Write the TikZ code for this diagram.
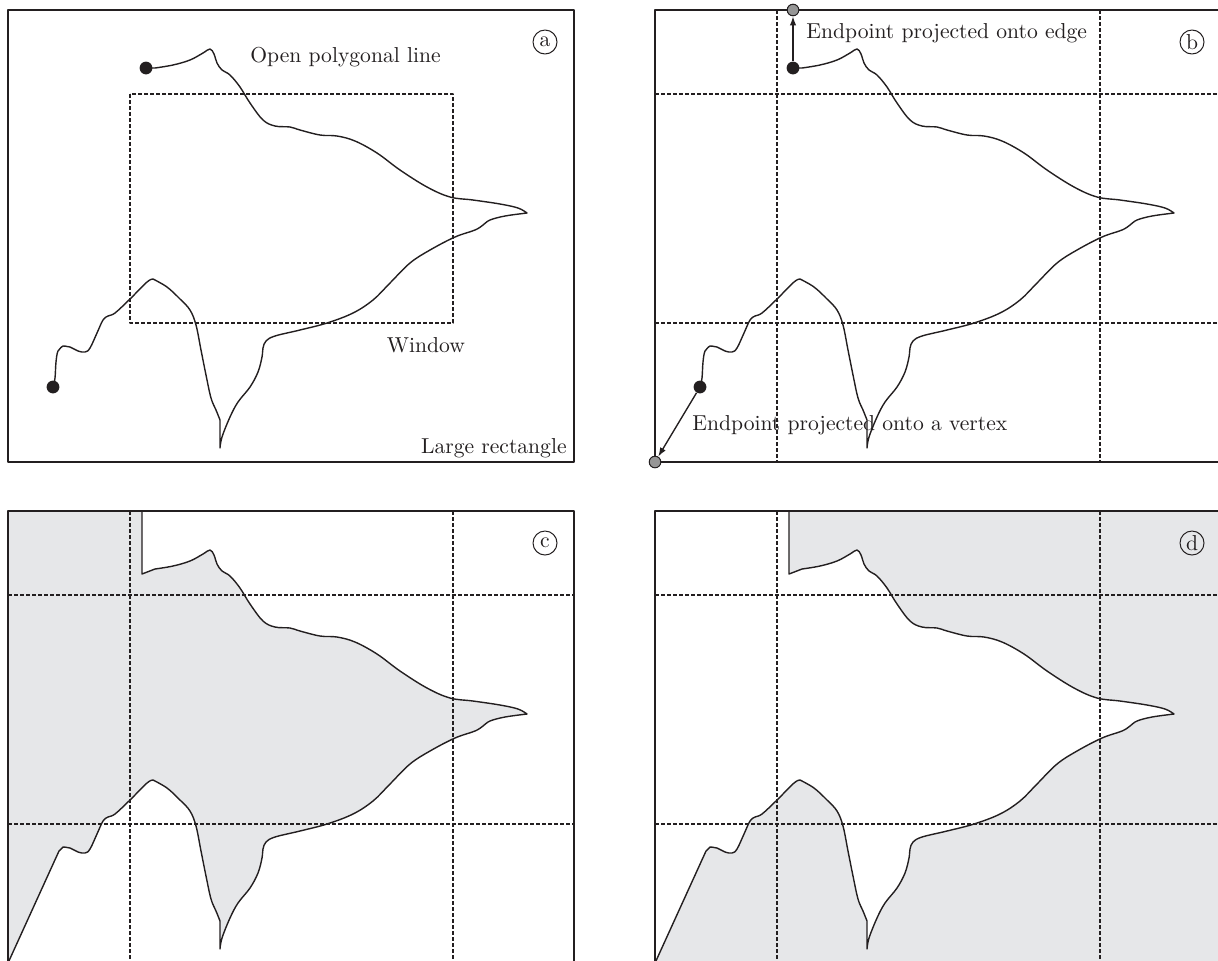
\documentclass[tikz,border=0pt]{standalone}
\usetikzlibrary{arrows.meta}
\definecolor{tinta}{RGB}{35,31,32}
\definecolor{sombra}{RGB}{230,231,233}
\definecolor{punto}{RGB}{150,150,150}
% la linea poligonal abierta, sin sus dos extremos
\newcommand\polytramo{%
  -- plot[smooth, tension=0.6] coordinates {(155,68) (173,65) (190,60) (203,53) (210,49) (214,54) (217,63) (222,70) (230,75) (240,87) (250,103) (263,120) (275,126) (290,127) (300,130) (320,135) (337,136) (355,141) (377,153) (400,170) (427,187) (450,197) (473,200) (500,204) (518,208) (527,213)}
  -- plot[smooth, tension=0.6] coordinates {(527,213) (505,216) (490,220) (483,225) (475,230) (455,237) (430,250) (410,263) (390,283) (373,300) (353,313) (327,323) (300,330) (275,336) (266,341) (263,348) (262,357) (258,372) (250,387) (238,402) (230,417) (222,437) (220,448)}
  -- (220,420)
  -- plot[smooth, tension=0.6] coordinates {(220,420) (216,410) (211,398) (206,375) (201,350) (196,325) (190,310) (180,299) (167,287) (153,279)}
  -- plot[smooth, tension=0.6] coordinates {(153,279) (147,282) (130,299) (115,313) (108,316) (103,320) (97,333) (90,348) (85,352) (78,351) (70,347) (63,346)}}
\begin{document}
\begin{tikzpicture}[x=0.5pt, y=-0.5pt, line join=round,
  borde/.style={line width=0.75pt, draw=tinta},
  linea/.style={line width=0.7pt, draw=tinta},
  rejilla/.style={line width=0.6pt, draw=tinta, dash pattern=on 1.8pt off 1.2pt},
  extremo/.style={circle, fill=tinta, inner sep=0pt, minimum size=6.4pt},
  proyectado/.style={circle, fill=punto, draw=tinta, line width=0.5pt, inner sep=0pt, minimum size=5.8pt},
  marca/.style={circle, draw=tinta, line width=0.5pt, inner sep=0pt, minimum size=12pt, text=tinta},
  rotulo/.style={inner sep=0pt, text=tinta},
  flecha/.style={line width=0.7pt, draw=tinta, -{Latex[length=4.5pt,width=3.2pt]}},
  font=\fontsize{10.8}{13}\selectfont]
  \useasboundingbox (0,0) rectangle (1218,960);
  % (a) el rectangulo grande, la ventana y la linea
  \draw[rejilla] (130,94) rectangle (453,323);
  \draw[linea] (146,68) \polytramo
    -- plot[smooth, tension=0.6] coordinates {(63,346) (58,351) (56,362) (55,378) (53,387)};
  \draw[borde] (8,10) rectangle (574,462);
  \node[extremo] (aini) at (146,68) {};
  \node[extremo] (afin) at (53,387) {};
  \node[marca] (aletra) at (545,42) {a};
  \node[rotulo, anchor=base west] (alinea) at (250,62) {Open polygonal line};
  \node[rotulo, anchor=base] (aventana) at (426,352) {Window};
  \node[rotulo, anchor=base east] (agrande) at (567,453) {Large rectangle};
  % (b) la rejilla y los extremos proyectados
  \begin{scope}[shift={(647,0)}]
    \draw[rejilla] (130,10) -- (130,462); \draw[rejilla] (453,10) -- (453,462);
    \draw[rejilla] (8,94) -- (574,94); \draw[rejilla] (8,323) -- (574,323);
    \draw[linea] (146,68) \polytramo
      -- plot[smooth, tension=0.6] coordinates {(63,346) (58,351) (56,362) (55,378) (53,387)};
    \draw[borde] (8,10) rectangle (574,462);
    \node[extremo] (bini) at (146,68) {};
    \node[extremo] (bfin) at (53,387) {};
    \node[proyectado] (bborde) at (146,10) {};
    \node[proyectado] (bvertice) at (8,462) {};
    \draw[flecha] (bini) -- (bborde);
    \draw[flecha] (bfin) -- (bvertice);
    \node[marca] (bletra) at (545,42) {b};
    \node[rotulo, anchor=base west] (bproyborde) at (159,38) {Endpoint projected onto edge};
    \node[rotulo, anchor=base west] (bproyvert) at (45,430) {Endpoint projected onto a vertex};
  \end{scope}
  % (c) la region de un lado, sombreada
  \begin{scope}[shift={(0,501)}]
    \fill[sombra] (8,10) -- (142,10) -- (142,73) \polytramo -- (59,350) -- (8,462) -- cycle;
    \draw[rejilla] (130,10) -- (130,462); \draw[rejilla] (453,10) -- (453,462);
    \draw[rejilla] (8,94) -- (574,94); \draw[rejilla] (8,323) -- (574,323);
    \draw[linea] (142,10) -- (142,73) \polytramo -- (59,350) -- (8,462);
    \draw[borde] (8,10) rectangle (574,462);
    \node[marca] (cletra) at (545,42) {c};
  \end{scope}
  % (d) la region del otro lado, sombreada
  \begin{scope}[shift={(647,501)}]
    \fill[sombra] (8,10) rectangle (574,462);
    \fill[white] (8,10) -- (142,10) -- (142,73) \polytramo -- (59,350) -- (8,462) -- cycle;
    \draw[rejilla] (130,10) -- (130,462); \draw[rejilla] (453,10) -- (453,462);
    \draw[rejilla] (8,94) -- (574,94); \draw[rejilla] (8,323) -- (574,323);
    \draw[linea] (142,10) -- (142,73) \polytramo -- (59,350) -- (8,462);
    \draw[borde] (8,10) rectangle (574,462);
    \node[marca] (dletra) at (545,42) {d};
  \end{scope}
\end{tikzpicture}
\end{document}
